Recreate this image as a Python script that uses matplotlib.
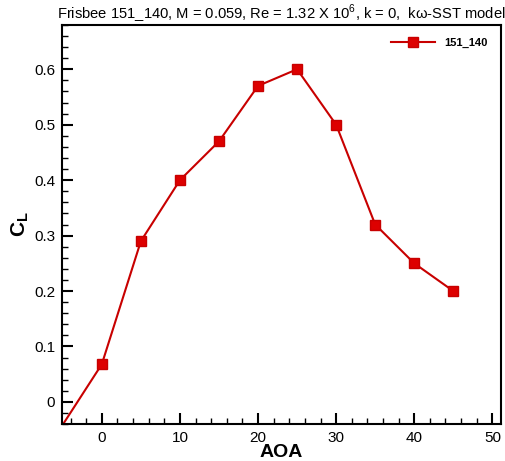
import matplotlib.pyplot as plt
from matplotlib.ticker import MultipleLocator

plt.rcParams['font.family'] = ['Liberation Sans', 'DejaVu Sans']

# lift coefficient vs angle of attack
aoa = [-10, 0, 5, 10, 15, 20, 25, 30, 35, 40, 45]
cl = [-0.15, 0.068, 0.29, 0.40, 0.47, 0.57, 0.60, 0.50, 0.32, 0.25, 0.20]
series_name = "151_140"

fig = plt.figure(figsize=(5.06, 4.61), dpi=100)
ax = fig.add_axes([0.1225, 0.080, 0.8675, 0.866])

ax.plot(aoa, cl, color='#c80000', linewidth=1.5, marker='s', markersize=7.5,
        markerfacecolor='#dd0000', markeredgecolor='#c80000', label=series_name)

ax.set_xlim(-5.1, 51.1)
ax.set_ylim(-0.04, 0.68)
ax.xaxis.set_major_locator(MultipleLocator(10))
ax.xaxis.set_minor_locator(MultipleLocator(2))
ax.yaxis.set_major_locator(MultipleLocator(0.1))
ax.yaxis.set_minor_locator(MultipleLocator(0.02))
ax.yaxis.set_major_formatter(plt.FuncFormatter(lambda v, p: '0' if abs(v) < 1e-9 else f'{v:.1f}'))

ax.tick_params(which='major', direction='in', length=8, width=1.5, labelsize=11, pad=5)
ax.tick_params(which='minor', direction='in', length=4, width=1)
for s in ax.spines.values():
    s.set_linewidth(1.5)

ax.set_xlabel('AOA', fontsize=14, fontweight='bold', labelpad=-1)
ax.set_ylabel('C$_\\mathregular{L}$', fontsize=15, fontweight='bold', labelpad=2)
ax.set_title('Frisbee 151_140, M = 0.059, Re = 1.32 X 10$^\\mathregular{6}$, k = 0,  kω-SST model',
             fontsize=10.6, pad=3)

leg = ax.legend(loc='upper right', frameon=False, handlelength=4.0,
                borderaxespad=0.8, prop={'weight': 'bold', 'size': 8})

fig.savefig('out.png', dpi=100)
